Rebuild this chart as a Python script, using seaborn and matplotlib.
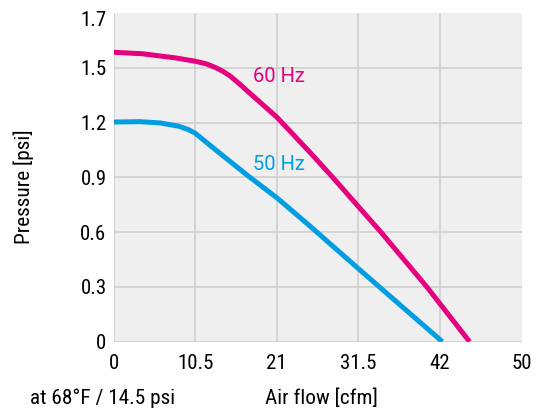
import matplotlib
matplotlib.use("Agg")
import matplotlib.pyplot as plt
import seaborn as sns
import pandas as pd

# ---- data ----
flow_60 = [0, 3.7, 8.0, 10.5, 11.9, 13.2, 14.1, 15.0, 16.2, 17.5, 21.0, 25.2, 28.3, 31.5, 34.4, 40.3, 45.8]
pres_60 = [1.585, 1.577, 1.554, 1.536, 1.522, 1.50, 1.48, 1.455, 1.412, 1.362, 1.23, 1.04, 0.895, 0.74, 0.60, 0.30, 0.0]
flow_50 = [0, 3.4, 6.0, 8.4, 9.6, 10.5, 12.0, 13.5, 17.1, 21.1, 25.3, 31.5, 42.3]
pres_50 = [1.203, 1.205, 1.198, 1.18, 1.162, 1.142, 1.09, 1.038, 0.915, 0.785, 0.632, 0.40, 0.0]
series_names = ["60 Hz", "50 Hz"]
series_colors = ["#E5007D", "#009EE0"]

x_ticks = [0, 10.5, 21, 31.5, 42]
x_tick_labels = ["0", "10.5", "21", "31.5", "42"]
x_end_tick = 52.5
x_end_label = "50"
y_ticks = [0, 0.3, 0.6, 0.9, 1.2, 1.5]
y_tick_labels = ["0", "0.3", "0.6", "0.9", "1.2", "1.5"]
y_end_tick = 1.77
y_end_label = "1.7"

df = pd.concat([
    pd.DataFrame({"flow": flow_60, "pressure": pres_60, "series": series_names[0]}),
    pd.DataFrame({"flow": flow_50, "pressure": pres_50, "series": series_names[1]}),
])

sns.set_theme(style="white")
FONT = ["Roboto Condensed", "Liberation Sans Narrow", "Liberation Sans", "DejaVu Sans"]
plt.rcParams["font.family"] = FONT

fig = plt.figure(figsize=(5.36, 4.12), dpi=100)
ax = fig.add_axes([0.2118, 0.1706, 0.9733 - 0.2118, 0.9684 - 0.1706])
ax.set_facecolor("#EFEFEF")

sns.lineplot(data=df, x="flow", y="pressure", hue="series", sort=False,
             palette=dict(zip(series_names, series_colors)), linewidth=3.6,
             legend=False, ax=ax, estimator=None)
for ln in ax.get_lines():
    ln.set_solid_capstyle("butt")
    ln.set_solid_joinstyle("round")

ax.set_xlim(0, 52.5)
ax.set_ylim(0, 1.8)
ax.set_xticks(x_ticks, labels=x_tick_labels)
ax.set_yticks(y_ticks, labels=y_tick_labels)
ax.set_xticks([x_end_tick], labels=[x_end_label], minor=True)
ax.set_yticks([y_end_tick], labels=[y_end_label], minor=True)
ax.grid(True, which="major", color="#CCCCCC", linewidth=1.1)
ax.set_axisbelow(True)
for s in ax.spines.values():
    s.set_visible(False)
ax.tick_params(which="both", length=0, labelsize=15, colors="#000000")
ax.tick_params(axis="x", which="both", pad=8.5)
ax.tick_params(axis="y", which="both", pad=5)
ax.set_xlabel("")
ax.set_ylabel("")

HZ_FONT = ["Roboto", "DejaVu Sans"]
ax.text(17.9, 1.45, series_names[0], color=series_colors[0], fontsize=14.5,
        va="center", ha="left", family=HZ_FONT)
ax.text(17.9, 0.97, series_names[1], color=series_colors[1], fontsize=14.5,
        va="center", ha="left", family=HZ_FONT)

fig.text(24 / 536, 1 - 187 / 412, "Pressure [psi]", rotation=90, ha="center", va="center",
         fontsize=15.3, color="#000000")
fig.text(103 / 536, 1 - 398 / 412, "at 68°F / 14.5 psi", ha="center", va="center",
         fontsize=15.3, color="#000000")
fig.text(321 / 536, 1 - 398 / 412, "Air flow [cfm]", ha="center", va="center",
         fontsize=15.3, color="#000000")

fig.savefig("out.png", dpi=100, facecolor="white")
